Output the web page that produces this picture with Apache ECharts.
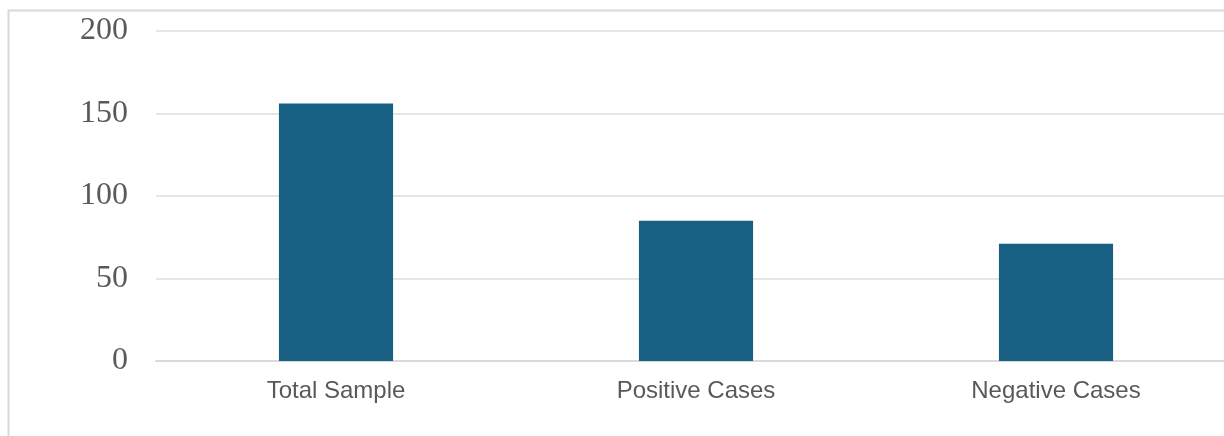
<!DOCTYPE html>
<html>
<head>
<meta charset="utf-8">
<script src="https://cdn.jsdelivr.net/npm/echarts@6/dist/echarts.min.js"></script>
<style>
  html, body { margin: 0; padding: 0; background: #fff; overflow: hidden; width: 1224px; height: 436px; }
  /* the plot runs past the right edge of the picture, so the canvas is a bit wider */
  #chart { width: 1236px; height: 436px; }
</style>
</head>
<body>
<div id="chart"></div>
<script>
// data
var categories = ["Total Sample", "Positive Cases", "Negative Cases"];
var counts = [156, 85, 71];
var yTicks = [0, 50, 100, 150, 200];

var chart = echarts.init(document.getElementById("chart"));

chart.setOption({
  animation: false,
  // outer chart frame, cut by the page edge
  graphic: [{
    type: "rect",
    shape: { x: 8.5, y: 10.5, width: 1400, height: 600 },
    style: { fill: "none", stroke: "#d9d9d9", lineWidth: 2 },
    silent: true
  }],
  grid: {
    left: 156,
    right: 0,
    top: 31,
    bottom: 75
  },
  xAxis: {
    type: "category",
    data: categories,
    axisTick: { show: false },
    axisLine: { lineStyle: { color: "#d9d9d9", width: 2 } },
    axisLabel: {
      color: "#595959",
      fontFamily: "Liberation Sans, Arial, sans-serif",
      fontSize: 24,
      margin: 18
    }
  },
  yAxis: {
    type: "value",
    min: yTicks[0],
    max: yTicks[yTicks.length - 1],
    interval: 50,
    axisLine: { show: false },
    axisTick: { show: false },
    splitLine: { lineStyle: { color: "#e6e6e6", width: 2 } },
    axisLabel: {
      color: "#595959",
      fontFamily: "Liberation Serif, Times New Roman, serif",
      fontSize: 32,
      margin: 28
    }
  },
  series: [{
    type: "bar",
    data: counts,
    barWidth: "31.7%",
    itemStyle: { color: "#176083" }
  }]
});
</script>
</body>
</html>
